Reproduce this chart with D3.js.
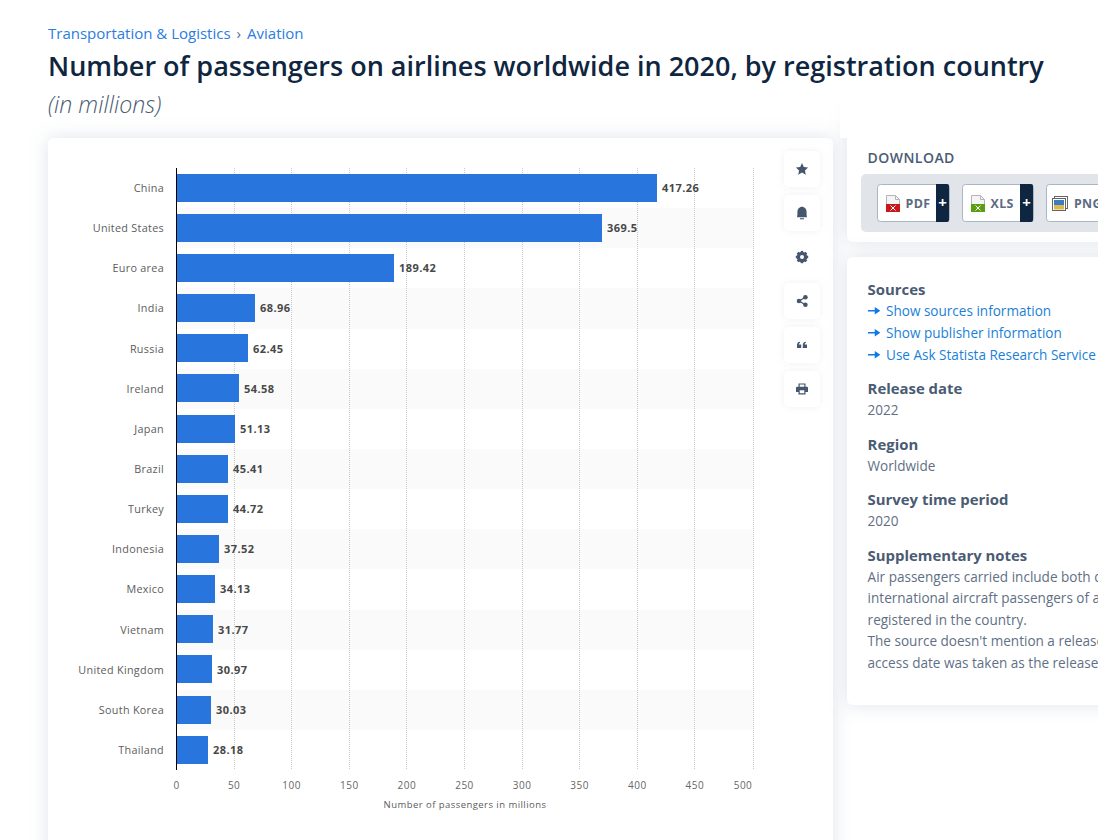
<!DOCTYPE html>
<html><head><meta charset="utf-8">
<script src="https://cdnjs.cloudflare.com/ajax/libs/d3/7.8.5/d3.min.js"></script>
<style>
html,body{margin:0;padding:0;background:#fff;width:1098px;height:840px;overflow:hidden;font-family:"Open Sans",sans-serif}
svg{position:absolute;left:0;top:0}
</style></head><body>
<svg id="c" width="1098" height="840"></svg>
<script>
const categories=["China","United States","Euro area","India","Russia","Ireland","Japan","Brazil","Turkey","Indonesia","Mexico","Vietnam","United Kingdom","South Korea","Thailand"];
const values=[417.26,369.5,189.42,68.96,62.45,54.58,51.13,45.41,44.72,37.52,34.13,31.77,30.97,30.03,28.18];
const xTicks=[0,50,100,150,200,250,300,350,400,450,500];
const axisTitle="Number of passengers in millions";
const breadcrumb=["Transportation & Logistics","Aviation"];
const title="Number of passengers on airlines worldwide in 2020, by registration country";
const subtitle="(in millions)";
const sourceLinks=["Show sources information","Show publisher information","Use Ask Statista Research Service"];
const metaBlocks=[["Release date","2022",388],["Region","Worldwide",444],["Survey time period","2020",499]];
const notes=["Air passengers carried include both d","international aircraft passengers of a","registered in the country.","The source doesn't mention a release","access date was taken as the release"];
const downloads=[["PDF",877,72,"#c8171c"],["XLS",962,71,"#5c9e12"],["PNG",1046,90,"#3a7bc8"]];

const svg=d3.select("#c");
const defs=svg.append("defs");
function shadow(id,dev,op){
  const f=defs.append("filter").attr("id",id).attr("x","-30%").attr("y","-30%").attr("width","160%").attr("height","160%");
  f.append("feDropShadow").attr("dx",0).attr("dy",0).attr("stdDeviation",dev).attr("flood-color","#8a97ad").attr("flood-opacity",op);
}
shadow("sh",9,0.28);shadow("sb",3,0.14);

function card(x,y,w,h){svg.append("rect").attr("x",x).attr("y",y).attr("width",w).attr("height",h).attr("rx",6).attr("fill","#fff").attr("filter","url(#sh)");}
card(48,138,785,760);
card(847,118,300,124);
card(847,257,300,448);
svg.append("rect").attr("x",840).attr("y",100).attr("width",258).attr("height",38).attr("fill","#fff");

// header
const bc=svg.append("text").attr("x",48).attr("y",39).attr("font-size",15).attr("fill","#2a7de1");
bc.append("tspan").text(breadcrumb[0]);
bc.append("tspan").attr("dx",6).attr("fill","#5a6b82").text("›");
bc.append("tspan").attr("dx",6).text(breadcrumb[1]);
svg.append("text").attr("x",48).attr("y",76).attr("font-size",27).attr("font-weight",600).attr("fill","#0f2640").text(title);
svg.append("text").attr("x",48).attr("y",113).attr("font-size",23.2).attr("font-style","italic").attr("font-weight",300).attr("fill","#4a5b74").text(subtitle);

// chart
const x=d3.scaleLinear().domain([0,500]).range([176.5,752.5]);
const y=d3.scaleBand().domain(categories).range([167.63,769.73]);
const barH=28;
const plot=svg.append("g").attr("shape-rendering","crispEdges");
plot.selectAll("rect.band").data(categories.filter((d,i)=>i%2==1)).join("rect").attr("class","band")
 .attr("x",177).attr("width",577).attr("y",d=>Math.round(y(d)+.4)).attr("height",d=>Math.round(y(d)+y.bandwidth()+.4)-Math.round(y(d)+.4)).attr("fill","#fafafa");
const gx=d=>d==500?753.5:Math.floor(x(d))+0.5;
plot.selectAll("line.grid").data(xTicks.slice(1)).join("line").attr("class","grid")
 .attr("x1",gx).attr("x2",gx).attr("y1",168).attr("y2",769)
 .attr("stroke","#cacaca").attr("stroke-dasharray","1 1");
plot.selectAll("rect.bar").data(values).join("rect").attr("class","bar")
 .attr("x",177).attr("width",d=>Math.floor(x(d))-177).attr("y",(d,i)=>Math.round(y(categories[i])+y.bandwidth()/2-barH/2)).attr("height",barH).attr("fill","#2875dd");
plot.append("line").attr("x1",176.5).attr("x2",176.5).attr("y1",168).attr("y2",770).attr("stroke","#000").attr("stroke-width",1);
const labels=svg.append("g");
labels.selectAll("text.cat").data(categories).join("text").attr("class","cat")
 .attr("x",164).attr("y",d=>y(d)+y.bandwidth()/2+4.3).attr("text-anchor","end").attr("font-size",10.8).attr("letter-spacing",0.3).attr("fill","#5c5c5c").text(d=>d);
labels.selectAll("text.val").data(values).join("text").attr("class","val")
 .attr("x",d=>Math.floor(x(d))+5).attr("y",(d,i)=>y(categories[i])+y.bandwidth()/2+4.3).attr("font-size",11).attr("font-weight",700).attr("letter-spacing",0.42).attr("fill","#484848").text(d=>d);
labels.selectAll("text.tick").data(xTicks).join("text").attr("class","tick")
 .attr("x",d=>d==500?743:x(d)).attr("y",789).attr("text-anchor","middle").attr("font-size",10).attr("letter-spacing",0.5).attr("fill","#666").text(d=>d);
labels.append("text").attr("x",465).attr("y",808).attr("text-anchor","middle").attr("font-size",9.5).attr("letter-spacing",0.45).attr("fill","#5c5c5c").text(axisTitle);

// side toolbar
const ico="#46566e";
const toolY=d3.range(6).map(i=>151+44*i);
const tb=svg.selectAll("g.tb").data(toolY).join("g").attr("class","tb").attr("transform",d=>`translate(802,${d+18})`);
tb.append("rect").attr("x",-18).attr("y",-18).attr("width",36).attr("height",36).attr("rx",5).attr("fill","#fff").attr("filter","url(#sb)");
const starPts=d3.range(10).map(i=>{const r=i%2?3.1:6.4,a=i*Math.PI/5;return [r*Math.sin(a),-r*Math.cos(a)];});
d3.select(tb.nodes()[0]).append("path").attr("d",d3.line()(starPts)+"Z").attr("fill",ico).attr("transform","translate(0,0.5)");
const bell=d3.select(tb.nodes()[1]).attr("fill",ico);
bell.append("path").attr("d","M-5 4.3C-4.6 3-4.6 1-4.6-1-4.6-4-2.6-6.3 0-6.3S4.6-4 4.6-1C4.6 1 4.6 3 5 4.3Z");
bell.append("rect").attr("x",-2).attr("y",5.2).attr("width",4).attr("height",1.1);
const gear=d3.select(tb.nodes()[2]);
gear.append("circle").attr("r",3.6).attr("fill","none").attr("stroke",ico).attr("stroke-width",3.2);
gear.selectAll("rect").data(d3.range(8)).join("rect").attr("x",-1.3).attr("y",-6.2).attr("width",2.6).attr("height",2).attr("fill",ico).attr("transform",d=>`rotate(${d*45})`);
const sh=d3.select(tb.nodes()[3]);
sh.append("path").attr("d","M3.4-3.8-3 0 3.4 3.8").attr("fill","none").attr("stroke",ico).attr("stroke-width",1.3);
sh.selectAll("circle").data([[3.4,-3.8],[-3,0],[3.4,3.8]]).join("circle").attr("cx",d=>d[0]).attr("cy",d=>d[1]).attr("r",2.3).attr("fill",ico);
const q=d3.select(tb.nodes()[4]).attr("fill",ico);
q.append("path").attr("d","M-5 3V-.2C-5-2 -4-3 -2-3.3V-2C-2.9-1.8-3.2-1.2-3.2-.5H-.8V3Z");
q.append("path").attr("d","M.8 3V-.2C.8-2 1.8-3 3.8-3.3V-2C2.9-1.8 2.6-1.2 2.6-.5H5V3Z");
const pr=d3.select(tb.nodes()[5]).attr("fill",ico);
pr.append("path").attr("fill-rule","evenodd").attr("d","M-3.5-5.5H3.5V-2.3H5A1 1 0 0 1 6-1.3V3H3.5V5.5H-3.5V3H-6V-1.3A1 1 0 0 1-5-2.3H-3.5ZM-2.3-4.4V-2.3H2.3V-4.4ZM-2.3 1.2V4.3H2.3V1.2Z");

// download card
svg.append("text").attr("x",867.6).attr("y",163).attr("font-size",14).attr("font-weight",600).attr("letter-spacing",0.45).attr("fill","#4a5b74").text("DOWNLOAD");
svg.append("rect").attr("x",861).attr("y",174).attr("width",260).attr("height",58).attr("rx",5).attr("fill","#e1e4e8");
const dl=svg.selectAll("g.dl").data(downloads).join("g").attr("class","dl").attr("transform",d=>`translate(${d[1]},184)`);
dl.append("rect").attr("x",.5).attr("y",.5).attr("width",d=>d[2]).attr("height",37).attr("rx",3).attr("fill","#fff").attr("stroke","#a8b6c8");
const docs=dl.filter(d=>d[0]!="PNG");
docs.append("path").attr("d",d=>`M${d[2]-13} 0H${d[2]-2}a2 2 0 0 1 2 2V36a2 2 0 0 1-2 2H${d[2]-13}Z`).attr("fill","#0f2640");
docs.append("text").attr("x",d=>d[2]-6.5).attr("y",24).attr("text-anchor","middle").attr("font-size",15).attr("font-weight",700).attr("fill","#fff").text("+");
docs.append("path").attr("d","M9.5 11.5H18.5L22.5 15.5V27.5H9.5Z").attr("fill","#f4f4f4").attr("stroke","#b5b5b5");
docs.append("path").attr("d","M18.5 11.5V15.5H22.5").attr("fill","none").attr("stroke","#b5b5b5");
docs.append("rect").attr("x",9).attr("y",20).attr("width",14).attr("height",8).attr("fill",d=>d[3]);
docs.append("path").attr("d","M13.5 26.5 18.5 21.5M13.5 21.5 18.5 26.5").attr("stroke","#fff").attr("stroke-width",1);
const png=dl.filter(d=>d[0]=="PNG");
png.append("rect").attr("x",8.5).attr("y",12.5).attr("width",13).attr("height",12).attr("fill","#fff").attr("stroke","#666");
png.append("rect").attr("x",6.5).attr("y",14.5).attr("width",13).attr("height",12).attr("fill","#fff").attr("stroke","#666");
png.append("rect").attr("x",8).attr("y",16).attr("width",10).attr("height",5).attr("fill",d=>d[3]);
png.append("rect").attr("x",8).attr("y",21).attr("width",10).attr("height",4.5).attr("fill","#e0b84a");
dl.append("text").attr("x",d=>d[0]=="PNG"?28:28.6).attr("y",24).attr("font-size",12.4).attr("font-weight",700).attr("letter-spacing",0.3).attr("fill","#5c6b7f").text(d=>d[0]);

// info card
const hd=(t,yy)=>svg.append("text").attr("x",867.6).attr("y",yy).attr("font-size",14.9).attr("font-weight",700).attr("fill","#4a5b74").text(t);
const bd=(t,yy)=>svg.append("text").attr("x",867.6).attr("y",yy).attr("font-size",13.55).attr("fill","#5f6f85").text(t);
hd("Sources",295);
const lk=svg.selectAll("g.lk").data(sourceLinks).join("g").attr("class","lk").attr("transform",(d,i)=>`translate(868,${316+22*i})`);
lk.append("path").attr("d","M0-5.2H8M7.5-7.5 11-5.2 7.5-2.9Z").attr("stroke","#0f7ae5").attr("stroke-width",1.5).attr("fill","#0f7ae5");
lk.append("text").attr("x",18).attr("font-size",13.55).attr("fill","#1a7fd8").text(d=>d);
metaBlocks.forEach(m=>{hd(m[0],m[2]+6);bd(m[1],m[2]+27);});
hd("Supplementary notes",561);
notes.forEach((n,i)=>bd(n,582+21.4*i));
</script>
</body></html>
